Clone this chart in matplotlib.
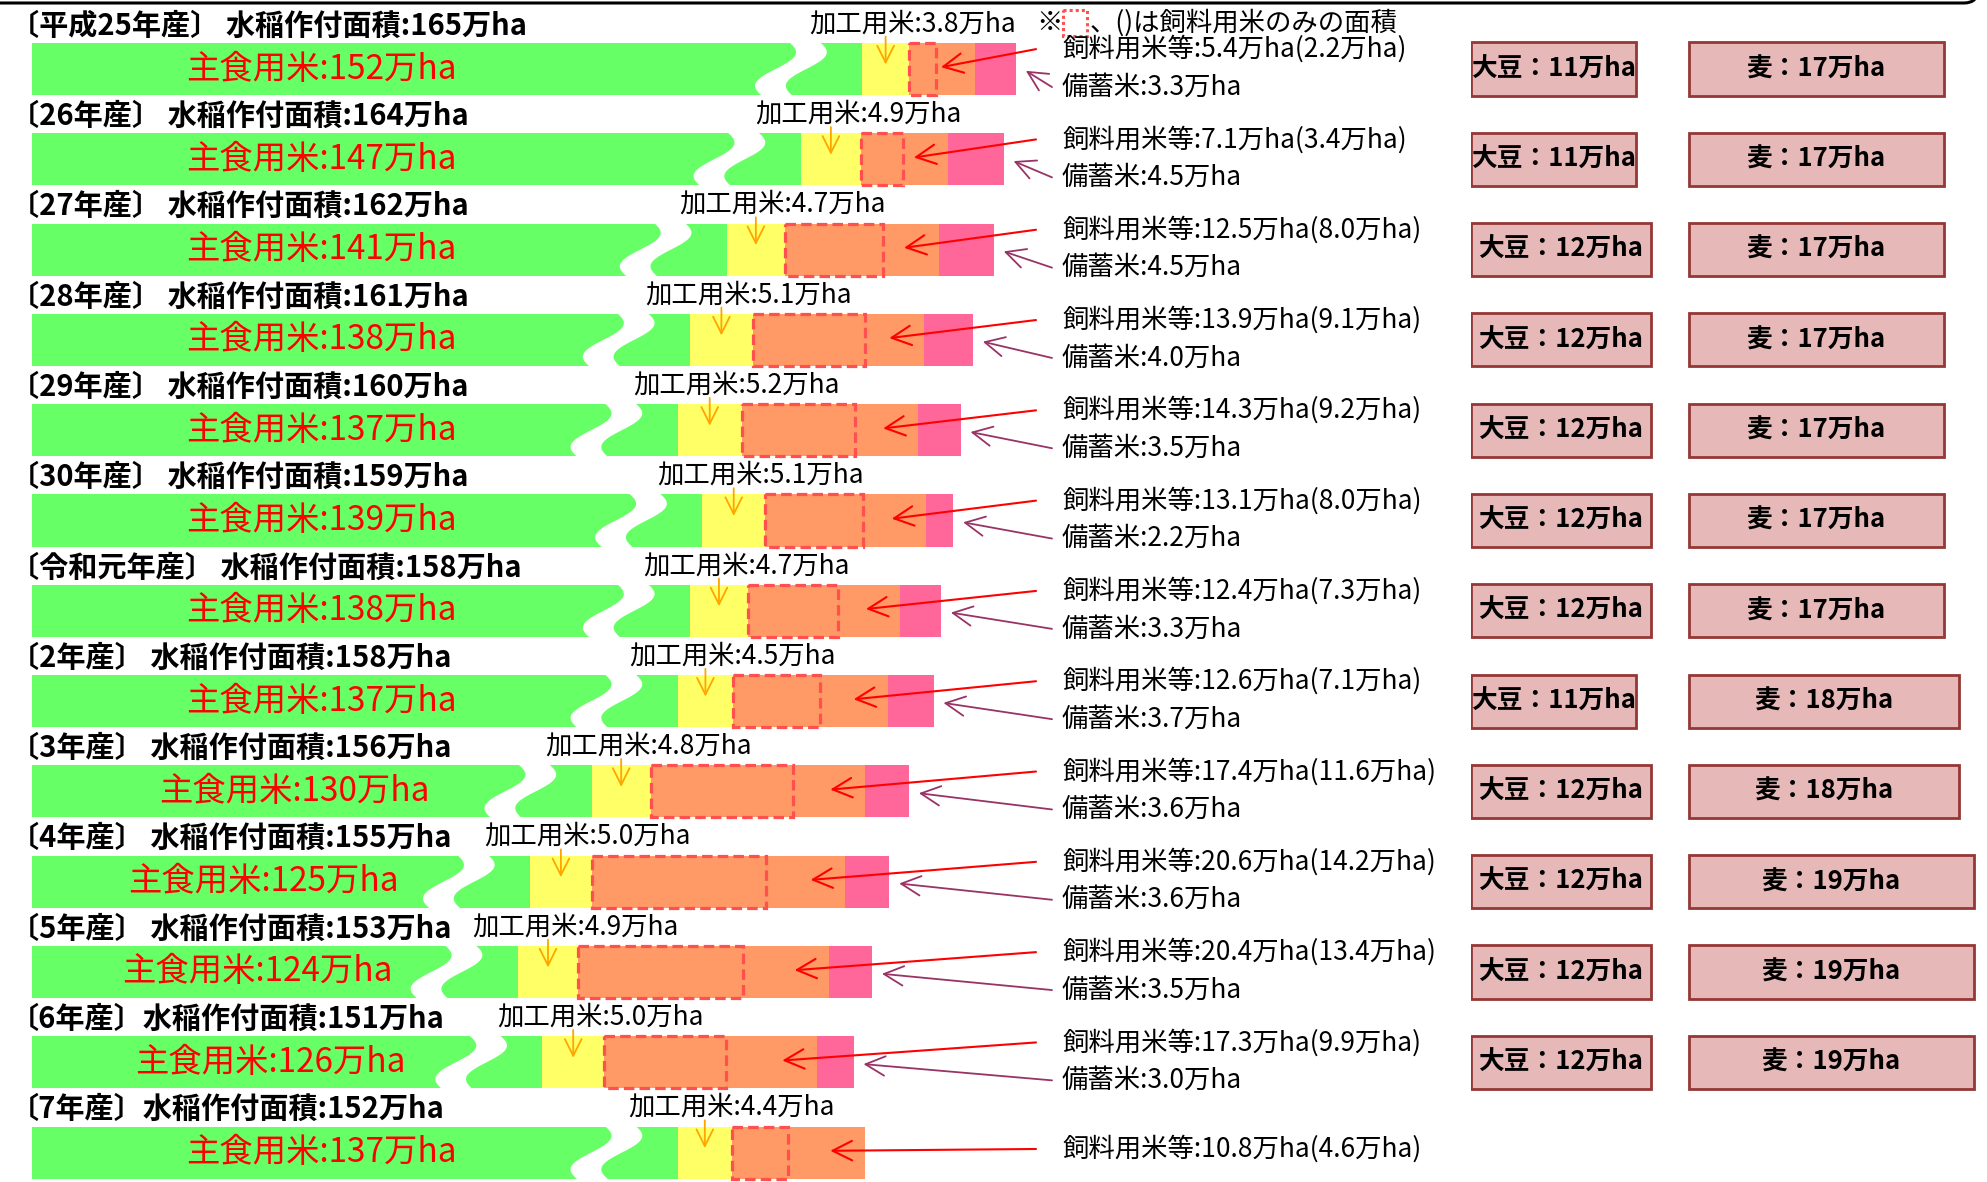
import matplotlib
matplotlib.use('Agg')
import matplotlib.pyplot as plt
import numpy as np
from matplotlib.patches import Rectangle, FancyBboxPatch, Polygon
from matplotlib.transforms import IdentityTransform

plt.rcParams['font.family'] = ['Noto Sans CJK JP', 'DejaVu Sans']

# --- data (万ha) ---
years = ['平成25年産', '26年産', '27年産', '28年産', '29年産', '30年産', '令和元年産',
         '2年産', '3年産', '4年産', '5年産', '6年産', '7年産']
total = [165, 164, 162, 161, 160, 159, 158, 158, 156, 155, 153, 151, 152]
main_rice = [152, 147, 141, 138, 137, 139, 138, 137, 130, 125, 124, 126, 137]
processing = [3.8, 4.9, 4.7, 5.1, 5.2, 5.1, 4.7, 4.5, 4.8, 5.0, 4.9, 5.0, 4.4]
feed = [5.4, 7.1, 12.5, 13.9, 14.3, 13.1, 12.4, 12.6, 17.4, 20.6, 20.4, 17.3, 10.8]
feed_only = [2.2, 3.4, 8.0, 9.1, 9.2, 8.0, 7.3, 7.1, 11.6, 14.2, 13.4, 9.9, 4.6]
stock = [3.3, 4.5, 4.5, 4.0, 3.5, 2.2, 3.3, 3.7, 3.6, 3.6, 3.5, 3.0, None]
soy = [11, 11, 12, 12, 12, 12, 12, 11, 12, 12, 12, 12]
wheat = [17, 17, 17, 17, 17, 17, 17, 18, 18, 19, 19, 19]

OMIT = 84.5  # part of 主食用米 hidden by the wavy break

GREEN = '#66FF66'
YELLOW = '#FFFF66'
ORANGE = '#FF9966'
PINK = '#FF6699'

W, H = 1987, 1182
X0, SC = 32, 12.3      # px where bars start, px per 万ha
ROW0, ROWH = 69, 90.3  # px of first bar centre, px per row

fig = plt.figure(figsize=(W / 100, H / 100), dpi=100)
ax = fig.add_axes([0, 0, 1, 1])
ax.set_xlim(-X0 / SC, (W - X0) / SC)
ax.set_ylim((H - ROW0) / ROWH, -ROW0 / ROWH)
ax.axis('off')


def px(x):
    return (x - X0) / SC


def py(y):
    return (y - ROW0) / ROWH


n = len(years)
yy = np.arange(n)
BH = 0.576
vis = np.array(main_rice) - OMIT
proc = np.array(processing)
fd = np.array(feed)
st = np.array([s if s is not None else 0 for s in stock])

ax.barh(yy, vis, height=BH, color=GREEN, zorder=2)
ax.barh(yy, proc, left=vis, height=BH, color=YELLOW, zorder=2)
ax.barh(yy, fd, left=vis + proc, height=BH, color=ORANGE, zorder=2)
ax.barh(yy, st, left=vis + proc + fd, height=BH, color=PINK, zorder=2)

for i in range(n):
    yc = yy[i]
    top = yc - BH / 2
    # wavy break
    xb = vis[i] - 5.8
    t = np.linspace(0, 1, 60)
    ys = top - 0.02 + t * (BH + 0.04)
    cx = xb + 1.0 * np.cos(np.pi * t) + 0.9 * np.sin(2 * np.pi * t)
    pts = np.vstack([np.column_stack([cx - 1.25, ys]),
                     np.column_stack([cx + 1.25, ys])[::-1]])
    ax.add_patch(Polygon(pts, closed=True, fc='white', ec='none', zorder=3))

    # feed-rice-only dashed box
    ax.add_patch(Rectangle((vis[i] + proc[i], top), feed_only[i], BH, fill=False,
                           ec='#FF5050', lw=2.3, ls=(0, (3.3, 1.6)), zorder=4))

    # title
    sp = ' ' if i < n - 2 else ''
    ax.text(px(10), yc - 0.48, f'〔{years[i]}〕{sp}水稲作付面積:{total[i]}万ha',
            fontsize=21, fontweight='bold', va='center', ha='left', zorder=5)

    # main rice label
    lx = min(0.5 * xb + 1.5, 23.5)
    ax.text(lx, yc, f'主食用米:{main_rice[i]}万ha', color='#FF0000',
            fontsize=24, va='center', ha='center', zorder=5)

    # processing rice label + arrow
    pxc = vis[i] + proc[i] / 2
    ax.text(pxc + 2.2, yc - 0.5, f'加工用米:{processing[i]:.1f}万ha',
            fontsize=19, va='center', ha='center', zorder=5)
    ax.annotate('', xy=(pxc, yc - 0.05), xytext=(pxc, top - 0.07),
                arrowprops=dict(arrowstyle='->,head_length=0.6,head_width=0.3',
                                color='#FFA500', lw=1.3, mutation_scale=20,
                                shrinkA=0, shrinkB=0), zorder=6)

    # feed rice label + arrow
    fy = yc - 0.22 if stock[i] is not None else yc - 0.04
    ax.text(px(1062), fy, f'飼料用米等:{feed[i]:.1f}万ha({feed_only[i]:.1f}万ha)',
            fontsize=19, va='center', ha='left', zorder=5)
    ax.annotate('', xy=(vis[i] + proc[i] + fd[i] - 2.8, yc - 0.02),
                xytext=(px(1036), fy),
                arrowprops=dict(arrowstyle='->,head_length=0.7,head_width=0.35',
                                color='#FF0000', lw=1.5, mutation_scale=20,
                                shrinkA=0, shrinkB=0), zorder=6)

    # stockpile label + arrow
    if stock[i] is not None:
        ax.text(px(1062), yc + 0.2, f'備蓄米:{stock[i]:.1f}万ha',
                fontsize=19, va='center', ha='left', zorder=5)
        ax.annotate('', xy=(vis[i] + proc[i] + fd[i] + st[i] + 0.8, yc + 0.02),
                    xytext=(px(1052), yc + 0.2),
                    arrowprops=dict(arrowstyle='->,head_length=0.7,head_width=0.35',
                                    color='#993366', lw=1.3, mutation_scale=20,
                                    shrinkA=0, shrinkB=0), zorder=6)

# note at top
ax.text(px(1036), py(23), '※', fontsize=19, va='center', ha='left')
ax.add_patch(Rectangle((px(1063), py(10)), 24 / SC, 26 / ROWH, fill=False,
                       ec='#FF5050', lw=2.2, ls=(0, (1, 1))))
ax.text(px(1090), py(23), '、()は飼料用米のみの面積', fontsize=19, va='center', ha='left')

# soybean / wheat boxes
BX0, BSC = 1471, 15
ax2 = fig.add_axes([BX0 / W, 0, (W - BX0) / W, 1])
ax2.set_xlim(0, (W - BX0) / BSC)
ax2.set_ylim(ax.get_ylim())
ax2.axis('off')
nb = len(soy)
WHEAT_LEFT = (1689 - BX0) / BSC
ax2.barh(yy[:nb], soy, height=0.587, color='#E6B9B8', edgecolor='#953735', linewidth=2)
ax2.barh(yy[:nb], wheat, left=WHEAT_LEFT, height=0.587, color='#E6B9B8',
         edgecolor='#953735', linewidth=2)
for i in range(nb):
    ax2.text(soy[i] / 2, yy[i], f'大豆：{soy[i]}万ha', fontsize=18.5, fontweight='bold',
             va='center', ha='center')
    ax2.text(WHEAT_LEFT + wheat[i] / 2, yy[i], f'麦：{wheat[i]}万ha', fontsize=18.5,
             fontweight='bold', va='center', ha='center')

# frame edge at the very top
fig.patches.append(FancyBboxPatch((-20, H - 3), W - 7 + 20 - 2, 100,
                                  boxstyle='round,pad=0,rounding_size=14',
                                  fc='none', ec='black', lw=2.2,
                                  transform=IdentityTransform()))

fig.savefig('out.png', dpi=100)
